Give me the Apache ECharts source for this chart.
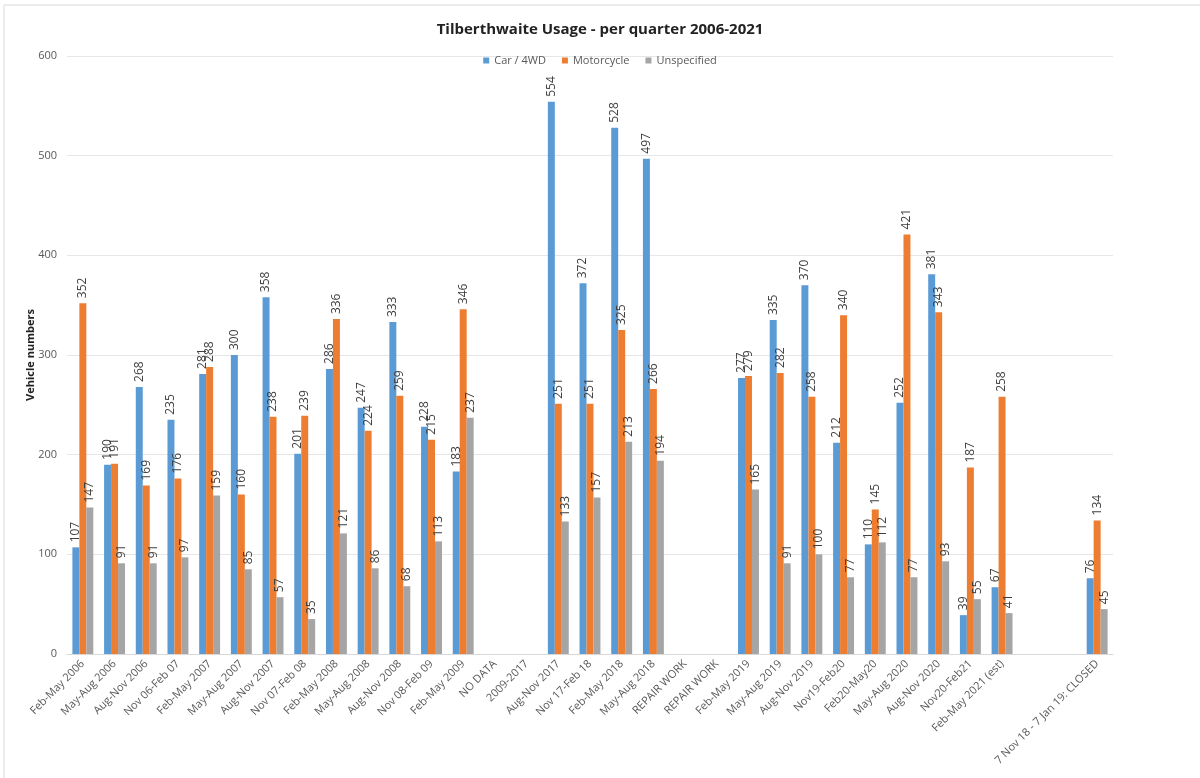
<!DOCTYPE html>
<html>
<head>
<meta charset="UTF-8">
<title>Tilberthwaite Usage</title>
<script type="text/javascript" src="https://cdn.jsdelivr.net/npm/echarts@6/dist/echarts.min.js"></script>
<style>
	html, body { margin: 0; padding: 0; background: #fff; }
</style>
</head>
<body>
	<div id="main" style="width: 1200px;height:778px;"></div>
</body>
<script type="text/javascript">
	// categories (two blank slots before the closure period)
	var quarters = ['Feb-May 2006', 'May-Aug 2006', 'Aug-Nov 2006', 'Nov 06-Feb 07', 'Feb-May 2007',
		'May-Aug 2007', 'Aug-Nov 2007', 'Nov 07-Feb 08', 'Feb-May 2008', 'May-Aug 2008',
		'Aug-Nov 2008', 'Nov 08-Feb 09', 'Feb-May 2009', 'NO DATA', '2009-2017',
		'Aug-Nov 2017', 'Nov 17-Feb 18', 'Feb-May 2018', 'May-Aug 2018', 'REPAIR WORK',
		'REPAIR WORK', 'Feb-May 2019', 'May-Aug 2019', 'Aug-Nov 2019', 'Nov19-Feb20',
		'Feb20-May20', 'May-Aug 2020', 'Aug-Nov 2020', 'Nov20-Feb21', 'Feb-May 2021 (est)',
		'', '', '7 Nov 18 - 7 Jan 19: CLOSED'];

	var car = [107, 190, 268, 235, 281, 300, 358, 201, 286, 247, 333, 228, 183, null, null,
		554, 372, 528, 497, null, null, 277, 335, 370, 212, 110, 252, 381, 39, 67, null, null, 76];
	var motorcycle = [352, 191, 169, 176, 288, 160, 238, 239, 336, 224, 259, 215, 346, null, null,
		251, 251, 325, 266, null, null, 279, 282, 258, 340, 145, 421, 343, 187, 258, null, null, 134];
	var unspecified = [147, 91, 91, 97, 159, 85, 57, 35, 121, 86, 68, 113, 237, null, null,
		133, 157, 213, 194, null, null, 165, 91, 100, 77, 112, 77, 93, 55, 41, null, null, 45];

	var myChart = echarts.init(document.getElementById('main'));

	var font = '"Open Sans", "Liberation Sans", sans-serif';

	// 柱顶竖排数值
	var barLabel = {
		show : true,
		position : 'top',
		rotate : 90,
		align : 'left',
		verticalAlign : 'middle',
		distance : 5,
		fontSize : 12,
		fontFamily : font,
		color : '#404040'
	};

	function makeSeries(name, data, color) {
		return {
			name : name,
			type : 'bar',
			data : data,
			barGap : '0%',
			barCategoryGap : '34%',
			itemStyle : { color : color },
			label : barLabel
		};
	}

	option = {
		textStyle : { fontFamily : font },
		title : {
			text : 'Tilberthwaite Usage - per quarter 2006-2021',
			left : 'center',
			top : 17,
			textStyle : {
				fontSize : 15,
				fontWeight : 'bold',
				color : '#222',
				fontFamily : font
			}
		},
		legend : {
			top : 50,
			left : 'center',
			itemWidth : 6,
			itemHeight : 6,
			itemGap : 16,
			icon : 'rect',
			textStyle : { fontSize : 11, color : '#595959', fontFamily : font },
			data : [ 'Car / 4WD', 'Motorcycle', 'Unspecified' ]
		},
		grid : {
			left : 67,
			right : 87,
			top : 56,
			bottom : 124,
			containLabel : false
		},
		xAxis : {
			type : 'category',
			data : quarters,
			axisTick : { show : false },
			axisLine : { lineStyle : { color : '#d9d9d9' } },
			axisLabel : {
				interval : 0,
				rotate : 45,
				fontSize : 11,
				color : '#595959',
				margin : 8
			}
		},
		yAxis : {
			type : 'value',
			min : 0,
			max : 600,
			interval : 100,
			name : 'Vehicle numbers',
			nameLocation : 'middle',
			nameRotate : 90,
			nameGap : 31,
			nameMoveOverlap : false,
			nameTextStyle : { fontSize : 11, fontWeight : 'bold', color : '#222' },
			axisLine : { show : false },
			axisTick : { show : false },
			axisLabel : { fontSize : 11, color : '#595959', margin : 10 },
			splitLine : { lineStyle : { color : '#e6e6e6' } }
		},
		graphic : [
			{ type : 'line', shape : { x1 : 4, y1 : 5, x2 : 1200, y2 : 5 }, style : { stroke : '#d9d9d9', lineWidth : 1 } },
			{ type : 'line', shape : { x1 : 4, y1 : 5, x2 : 4, y2 : 778 }, style : { stroke : '#d9d9d9', lineWidth : 1 } }
		],
		series : [
			makeSeries('Car / 4WD', car, '#5B9BD5'),
			makeSeries('Motorcycle', motorcycle, '#ED7D31'),
			makeSeries('Unspecified', unspecified, '#A5A5A5')
		]
	};
	myChart.setOption(option);
</script>
</html>
